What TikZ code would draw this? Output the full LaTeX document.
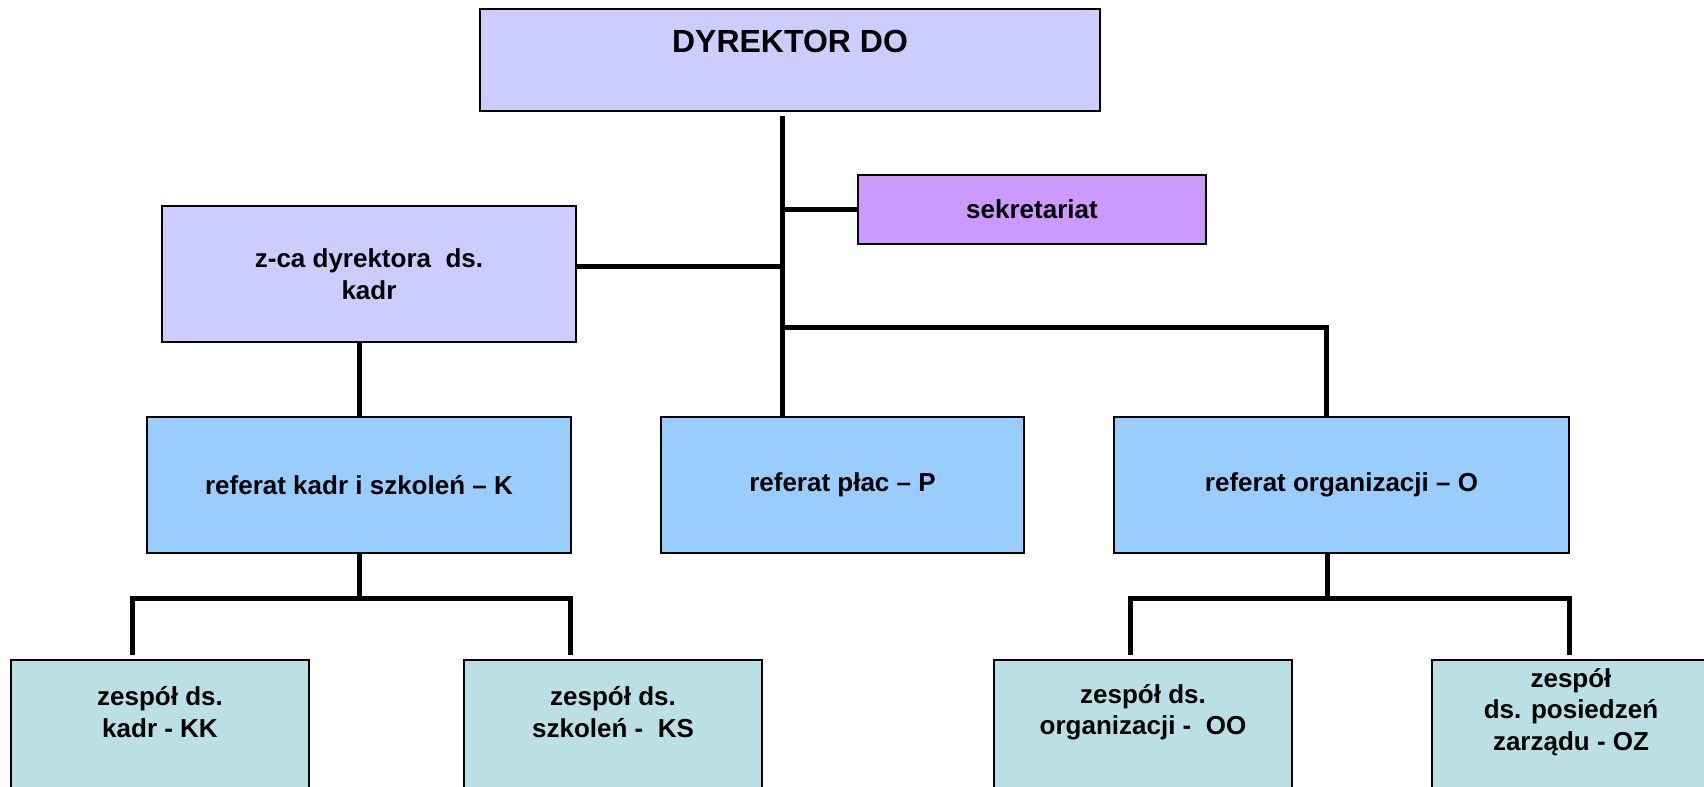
\documentclass[tikz,border=0pt]{standalone}
\usepackage{fontspec}
\setmainfont{Liberation Sans}
\usepackage{xcolor}
\definecolor{colorDirector}{RGB}{204,204,255}
\definecolor{colorSecretary}{RGB}{204,153,255}
\definecolor{colorSection}{RGB}{153,204,255}
\definecolor{colorTeam}{RGB}{186,223,228}
\tikzset{
  unitbox/.style={draw=black, line width=1pt, inner sep=0pt, align=center,
    font=\bfseries\fontsize{13}{15.75}\selectfont},
  sectionbox/.style={unitbox, fill=colorSection, minimum height=68pt},
  teambox/.style={unitbox, fill=colorTeam, anchor=north, minimum width=149pt, minimum height=150pt},
  teamtext/.style={align=center, inner sep=0pt, font=\bfseries\fontsize{13}{15.75}\selectfont},
}

\begin{document}
\begin{tikzpicture}[x=0.5pt, y=-0.5pt, link/.style={line width=2.5pt, line join=miter}]
\clip (0,0) rectangle (1704,787);
\node[unitbox, fill=colorDirector, minimum width=310pt, minimum height=51pt, font=\bfseries\fontsize{16}{19}\selectfont] (dyr) at (790,60) {DYREKTOR DO\\\mbox{}};
\node[unitbox, fill=colorSecretary, minimum width=174pt, minimum height=34.5pt] (sek) at (1032,209.5) {sekretariat};
\node[unitbox, fill=colorDirector, minimum width=207pt, minimum height=68pt] (zca) at (369,274) {z-ca dyrektora \ ds.\\kadr};
\node[sectionbox, minimum width=212pt] (refK) at (359,485) {referat kadr i szkoleń – K};
\node[sectionbox, minimum width=181.5pt] (refP) at (842.5,485) {referat płac – P};
\node[sectionbox, minimum width=227.5pt] (refO) at (1341.5,485) {referat organizacji – O};
% zespoly
\node[teambox] (zKK) at (160,659) {};
\node[teambox] (zKS) at (613,659) {};
\node[teambox] (zOO) at (1143,659) {};
\node[teambox, minimum width=139pt] (zOZ) at (1571,659) {};
\node[teamtext] (zKKt) at (160,712) {zespół ds.\\kadr - KK};
\node[teamtext] (zKSt) at (613,712) {zespół ds.\\szkoleń - \ KS};
\node[teamtext] (zOOt) at (1143,712) {zespół ds.\\organizacji - \ OO};
\node[teamtext] (zOZt) at (1571,712) {zespół\\ds. posiedzeń\\zarządu - OZ};
% linie
\coordinate (trunkTop) at (782,116);
\coordinate (tapO) at (1326,327);
\coordinate (barK) at (359,598);
\coordinate (dropKK) at (132,598);
\coordinate (dropKS) at (570,598);
\coordinate (barO) at (1327,598);
\coordinate (dropOO) at (1130,598);
\coordinate (dropOZ) at (1569,598);
\draw[link] (trunkTop) -- (trunkTop |- refP.north);
\draw[link] (sek.west) -- (sek.west -| trunkTop);
\draw[link] ([yshift=4pt]zca.east) -- ([yshift=4pt]zca.east -| trunkTop);
\draw[link] (tapO -| trunkTop) -- (tapO) -- (tapO |- refO.north);
\draw[link] (zca.south -| refK.north) -- (refK.north);
\draw[link] (refK.south) -- (barK);
\draw[link, shorten <=2pt, shorten >=2pt] (dropKK |- zKK.north) -- (dropKK) -- (dropKS) -- (dropKS |- zKS.north);
\draw[link] (refO.south -| barO) -- (barO);
\draw[link, shorten <=2pt, shorten >=2pt] (dropOO |- zOO.north) -- (dropOO) -- (dropOZ) -- (dropOZ |- zOZ.north);
\end{tikzpicture}
\end{document}
